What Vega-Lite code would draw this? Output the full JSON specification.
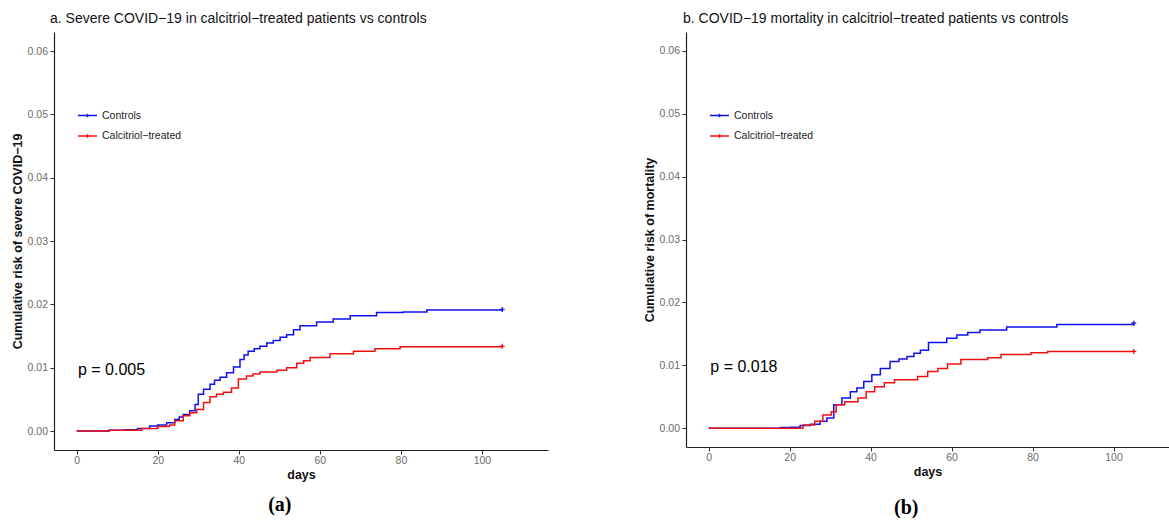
{
  "$schema": "https://vega.github.io/schema/vega-lite/v6.json",
  "background": "white",
  "padding": {"left": 11, "top": 12, "right": 0, "bottom": 0},
  "config": {
    "font": "Liberation Sans",
    "view": {"stroke": null},
    "axis": {
      "grid": false,
      "domainColor": "#222222",
      "domainWidth": 1.2,
      "tickColor": "#333333",
      "tickSize": 4,
      "labelColor": "#6b6b6b",
      "labelFontSize": 10.5,
      "labelFont": "Liberation Sans",
      "titleFont": "Liberation Sans",
      "titleColor": "#111111",
      "titleFontWeight": "bold",
      "titleFontSize": 12.5
    },
    "title": {"font": "Liberation Sans", "color": "#111111"}
  },
  "datasets": {
    "sevA": [
      {"group": "Controls", "day": 0, "risk": 0},
      {"group": "Controls", "day": 8, "risk": 0.0001},
      {"group": "Controls", "day": 12, "risk": 0.0002},
      {"group": "Controls", "day": 15, "risk": 0.0004},
      {"group": "Controls", "day": 18, "risk": 0.0008},
      {"group": "Controls", "day": 20, "risk": 0.00095},
      {"group": "Controls", "day": 22.2, "risk": 0.0013},
      {"group": "Controls", "day": 24.2, "risk": 0.0018},
      {"group": "Controls", "day": 25.3, "risk": 0.0022},
      {"group": "Controls", "day": 26.3, "risk": 0.0026},
      {"group": "Controls", "day": 27.9, "risk": 0.0032},
      {"group": "Controls", "day": 29.2, "risk": 0.0042},
      {"group": "Controls", "day": 30, "risk": 0.0058},
      {"group": "Controls", "day": 31.3, "risk": 0.0066},
      {"group": "Controls", "day": 32.9, "risk": 0.0074},
      {"group": "Controls", "day": 34, "risk": 0.008},
      {"group": "Controls", "day": 35.4, "risk": 0.0085},
      {"group": "Controls", "day": 37, "risk": 0.0092},
      {"group": "Controls", "day": 38.7, "risk": 0.0101},
      {"group": "Controls", "day": 40.3, "risk": 0.0113},
      {"group": "Controls", "day": 41.3, "risk": 0.012},
      {"group": "Controls", "day": 42.3, "risk": 0.0126},
      {"group": "Controls", "day": 43.8, "risk": 0.013},
      {"group": "Controls", "day": 45.2, "risk": 0.0134},
      {"group": "Controls", "day": 46.9, "risk": 0.0139},
      {"group": "Controls", "day": 48.5, "risk": 0.0143},
      {"group": "Controls", "day": 50.2, "risk": 0.0148},
      {"group": "Controls", "day": 51.8, "risk": 0.0152},
      {"group": "Controls", "day": 53.5, "risk": 0.016},
      {"group": "Controls", "day": 55.1, "risk": 0.0166},
      {"group": "Controls", "day": 59.2, "risk": 0.0172},
      {"group": "Controls", "day": 63.3, "risk": 0.0177},
      {"group": "Controls", "day": 67.5, "risk": 0.0182},
      {"group": "Controls", "day": 74, "risk": 0.0187},
      {"group": "Controls", "day": 80.6, "risk": 0.0188},
      {"group": "Controls", "day": 86.4, "risk": 0.0191},
      {"group": "Controls", "day": 105, "risk": 0.0192},
      {"group": "Calcitriol−treated", "day": 0, "risk": 0},
      {"group": "Calcitriol−treated", "day": 8, "risk": 0.0001},
      {"group": "Calcitriol−treated", "day": 16, "risk": 0.0004},
      {"group": "Calcitriol−treated", "day": 20, "risk": 0.0007},
      {"group": "Calcitriol−treated", "day": 22.9, "risk": 0.00095},
      {"group": "Calcitriol−treated", "day": 24.2, "risk": 0.0016},
      {"group": "Calcitriol−treated", "day": 26.3, "risk": 0.0024},
      {"group": "Calcitriol−treated", "day": 27.9, "risk": 0.0029},
      {"group": "Calcitriol−treated", "day": 29.6, "risk": 0.0034},
      {"group": "Calcitriol−treated", "day": 31.3, "risk": 0.0045},
      {"group": "Calcitriol−treated", "day": 32.9, "risk": 0.0054},
      {"group": "Calcitriol−treated", "day": 34.5, "risk": 0.0058},
      {"group": "Calcitriol−treated", "day": 36.2, "risk": 0.0061},
      {"group": "Calcitriol−treated", "day": 38.2, "risk": 0.0068},
      {"group": "Calcitriol−treated", "day": 39.9, "risk": 0.0082},
      {"group": "Calcitriol−treated", "day": 41.9, "risk": 0.0087},
      {"group": "Calcitriol−treated", "day": 43.5, "risk": 0.009},
      {"group": "Calcitriol−treated", "day": 45.2, "risk": 0.0093},
      {"group": "Calcitriol−treated", "day": 49.4, "risk": 0.0096},
      {"group": "Calcitriol−treated", "day": 51.8, "risk": 0.01},
      {"group": "Calcitriol−treated", "day": 54.3, "risk": 0.0107},
      {"group": "Calcitriol−treated", "day": 56, "risk": 0.0111},
      {"group": "Calcitriol−treated", "day": 57.6, "risk": 0.0116},
      {"group": "Calcitriol−treated", "day": 62.5, "risk": 0.0122},
      {"group": "Calcitriol−treated", "day": 68.3, "risk": 0.0126},
      {"group": "Calcitriol−treated", "day": 73.6, "risk": 0.013},
      {"group": "Calcitriol−treated", "day": 79.8, "risk": 0.0133},
      {"group": "Calcitriol−treated", "day": 105, "risk": 0.0134}
    ],
    "mortB": [
      {"group": "Controls", "day": 0, "risk": 0},
      {"group": "Controls", "day": 17.7, "risk": 0.0001},
      {"group": "Controls", "day": 20.2, "risk": 0.00016},
      {"group": "Controls", "day": 22.6, "risk": 0.0004},
      {"group": "Controls", "day": 25.1, "risk": 0.0006},
      {"group": "Controls", "day": 27.5, "risk": 0.0011},
      {"group": "Controls", "day": 29.2, "risk": 0.0016},
      {"group": "Controls", "day": 30.9, "risk": 0.0037},
      {"group": "Controls", "day": 32.9, "risk": 0.0048},
      {"group": "Controls", "day": 35, "risk": 0.0058},
      {"group": "Controls", "day": 36.6, "risk": 0.0064},
      {"group": "Controls", "day": 38.3, "risk": 0.0074},
      {"group": "Controls", "day": 40.3, "risk": 0.0085},
      {"group": "Controls", "day": 42.4, "risk": 0.0095},
      {"group": "Controls", "day": 44.8, "risk": 0.0106},
      {"group": "Controls", "day": 47, "risk": 0.011},
      {"group": "Controls", "day": 49, "risk": 0.0114},
      {"group": "Controls", "day": 50.7, "risk": 0.0119},
      {"group": "Controls", "day": 52.3, "risk": 0.0124},
      {"group": "Controls", "day": 54.3, "risk": 0.0136},
      {"group": "Controls", "day": 58.8, "risk": 0.0143},
      {"group": "Controls", "day": 61.3, "risk": 0.0148},
      {"group": "Controls", "day": 64, "risk": 0.0152},
      {"group": "Controls", "day": 67, "risk": 0.0156},
      {"group": "Controls", "day": 73.6, "risk": 0.0161},
      {"group": "Controls", "day": 86, "risk": 0.0165},
      {"group": "Controls", "day": 105, "risk": 0.0167},
      {"group": "Calcitriol−treated", "day": 0, "risk": 0},
      {"group": "Calcitriol−treated", "day": 23.3, "risk": 0.0005},
      {"group": "Calcitriol−treated", "day": 26.2, "risk": 0.0011},
      {"group": "Calcitriol−treated", "day": 28.2, "risk": 0.0021},
      {"group": "Calcitriol−treated", "day": 30.3, "risk": 0.0026},
      {"group": "Calcitriol−treated", "day": 31.5, "risk": 0.0037},
      {"group": "Calcitriol−treated", "day": 33.6, "risk": 0.0042},
      {"group": "Calcitriol−treated", "day": 36.9, "risk": 0.0048},
      {"group": "Calcitriol−treated", "day": 38.9, "risk": 0.0058},
      {"group": "Calcitriol−treated", "day": 41, "risk": 0.0066},
      {"group": "Calcitriol−treated", "day": 43.4, "risk": 0.0072},
      {"group": "Calcitriol−treated", "day": 45.9, "risk": 0.0077},
      {"group": "Calcitriol−treated", "day": 51.6, "risk": 0.0082},
      {"group": "Calcitriol−treated", "day": 54.1, "risk": 0.009},
      {"group": "Calcitriol−treated", "day": 56.6, "risk": 0.0095},
      {"group": "Calcitriol−treated", "day": 59, "risk": 0.0102},
      {"group": "Calcitriol−treated", "day": 62.3, "risk": 0.0109},
      {"group": "Calcitriol−treated", "day": 68.9, "risk": 0.0112},
      {"group": "Calcitriol−treated", "day": 72.2, "risk": 0.0117},
      {"group": "Calcitriol−treated", "day": 79.6, "risk": 0.012},
      {"group": "Calcitriol−treated", "day": 83.7, "risk": 0.0122},
      {"group": "Calcitriol−treated", "day": 105, "risk": 0.0122}
    ]
  },
  "spacing": 95,
  "resolve": {"scale": {"color": "independent", "x": "independent", "y": "independent"}, "legend": {"color": "independent"}},
  "hconcat": [
    {
      "title": {"text": "(a)", "orient": "bottom", "anchor": "middle", "frame": "bounds", "font": "Liberation Serif", "fontSize": 20, "fontWeight": "bold", "offset": 14, "color": "#000000"},
      "resolve": {"scale": {"color": "independent"}, "legend": {"color": "independent"}},
      "vconcat": [
        {
          "title": {"text": "a. Severe COVID−19 in calcitriol−treated patients vs controls", "anchor": "start", "frame": "group", "dx": -4, "fontSize": 14, "fontWeight": "normal", "offset": 6},
          "width": 494,
          "height": 418,
          "layer": [
            {
              "data": {"name": "sevA"},
              "mark": {"type": "line", "interpolate": "step-after", "strokeWidth": 1.5},
              "encoding": {
                "x": {"field": "day", "type": "quantitative", "scale": {"domain": [-5.6, 116.3], "nice": false, "zero": false}, "axis": {"title": "days", "values": [0, 20, 40, 60, 80, 100], "labelPadding": 1.5, "titlePadding": 2.5}},
                "y": {"field": "risk", "type": "quantitative", "scale": {"domain": [-0.003, 0.063], "nice": false, "zero": false}, "axis": {"title": "Cumulative risk of severe COVID−19", "values": [0, 0.01, 0.02, 0.03, 0.04, 0.05, 0.06], "format": ".2f", "labelPadding": 2.5, "titlePadding": 2.5}},
                "color": {"field": "group", "type": "nominal", "scale": {"domain": ["Controls", "Calcitriol−treated"], "range": ["#1010f0", "#f01010"]},
                  "legend": {"title": null, "orient": "none", "legendX": 23, "legendY": 73, "symbolType": "M-1,0L1,0M0,-0.18L0,0.18", "symbolSize": 361, "symbolStrokeWidth": 1.5, "labelFontSize": 10.5, "labelColor": "#222222", "labelOffset": 4, "rowPadding": 4.5, "padding": 0}}
              }
            },
            {
              "data": {"name": "sevA"},
              "transform": [{"filter": "datum.day >= 105"}],
              "mark": {"type": "point", "shape": "M-1,0L1,0M0,-1L0,1", "filled": false, "size": 25, "strokeWidth": 1.3, "opacity": 1},
              "encoding": {
                "x": {"field": "day", "type": "quantitative"},
                "y": {"field": "risk", "type": "quantitative"},
                "color": {"field": "group", "type": "nominal", "legend": null}
              }
            },
            {
              "data": {"values": [{}]},
              "mark": {"type": "text", "text": "p = 0.005", "align": "left", "baseline": "middle", "fontSize": 16, "color": "#000000"},
              "encoding": {
                "x": {"datum": 0.3, "type": "quantitative"},
                "y": {"datum": 0.0097, "type": "quantitative"}
              }
            }
          ]
        }
      ]
    },
    {
      "title": {"text": "(b)", "orient": "bottom", "anchor": "middle", "frame": "bounds", "font": "Liberation Serif", "fontSize": 20, "fontWeight": "bold", "offset": 20, "color": "#000000"},
      "resolve": {"scale": {"color": "independent"}, "legend": {"color": "independent"}},
      "vconcat": [
        {
          "title": {"text": "b. COVID−19 mortality in calcitriol−treated patients vs controls", "anchor": "start", "frame": "group", "dx": -3, "fontSize": 14, "fontWeight": "normal", "offset": 6},
          "width": 483,
          "height": 415,
          "layer": [
            {
              "data": {"name": "mortB"},
              "mark": {"type": "line", "interpolate": "step-after", "strokeWidth": 1.5},
              "encoding": {
                "x": {"field": "day", "type": "quantitative", "scale": {"domain": [-5.6, 113.7], "nice": false, "zero": false}, "axis": {"title": "days", "values": [0, 20, 40, 60, 80, 100], "labelPadding": 1.5, "titlePadding": 2.5}},
                "y": {"field": "risk", "type": "quantitative", "scale": {"domain": [-0.003, 0.063], "nice": false, "zero": false}, "axis": {"title": "Cumulative risk of mortality", "values": [0, 0.01, 0.02, 0.03, 0.04, 0.05, 0.06], "format": ".2f", "labelPadding": 2.5, "titlePadding": 2.5}},
                "color": {"field": "group", "type": "nominal", "scale": {"domain": ["Controls", "Calcitriol−treated"], "range": ["#1010f0", "#f01010"]},
                  "legend": {"title": null, "orient": "none", "legendX": 23, "legendY": 73, "symbolType": "M-1,0L1,0M0,-0.18L0,0.18", "symbolSize": 361, "symbolStrokeWidth": 1.5, "labelFontSize": 10.5, "labelColor": "#222222", "labelOffset": 4, "rowPadding": 4.5, "padding": 0}}
              }
            },
            {
              "data": {"name": "mortB"},
              "transform": [{"filter": "datum.day >= 105"}],
              "mark": {"type": "point", "shape": "M-1,0L1,0M0,-1L0,1", "filled": false, "size": 25, "strokeWidth": 1.3, "opacity": 1},
              "encoding": {
                "x": {"field": "day", "type": "quantitative"},
                "y": {"field": "risk", "type": "quantitative"},
                "color": {"field": "group", "type": "nominal", "legend": null}
              }
            },
            {
              "data": {"values": [{}]},
              "mark": {"type": "text", "text": "p = 0.018", "align": "left", "baseline": "middle", "fontSize": 16, "color": "#000000"},
              "encoding": {
                "x": {"datum": 0.4, "type": "quantitative"},
                "y": {"datum": 0.0098, "type": "quantitative"}
              }
            }
          ]
        }
      ]
    }
  ]
}
